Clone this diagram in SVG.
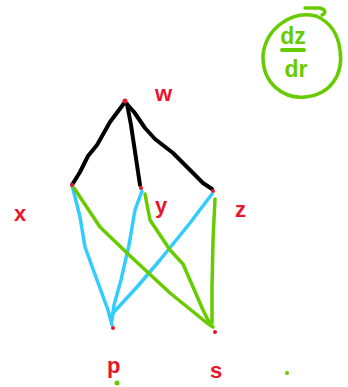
<svg xmlns="http://www.w3.org/2000/svg" width="348" height="387" viewBox="0 0 348 387">
<style>
.lbl{font-family:"Liberation Sans","DejaVu Sans",sans-serif;font-weight:bold;fill:#e8152b;font-size:22px}
.frac{font-family:"Liberation Sans","DejaVu Sans",sans-serif;font-weight:bold;fill:#66cc00;font-size:23px}
.e{fill:none;stroke-linecap:round;stroke-linejoin:round}
.k{stroke:#000;stroke-width:4}
.b{stroke:#33ccff;stroke-width:3.5}
.g{stroke:#66cc00;stroke-width:3.5}
.dot{fill:#e8152b}
</style>
<rect width="348" height="387" fill="#fff"/>
<g id="connectors">
<path class="e k" d="M125,102 L110,122 L97,145 L88,156 L80,172 L72,185"/>
<path class="e k" d="M127,104 L131,125 L134,145 L137,165 L140,185"/>
<path class="e k" d="M126,103 L134,112 L145,128 L155,139 L173,153 L193,173 L203,183 L212,189"/>
<path class="e b" d="M72,185 L80,217 L85,247 L97,280 L108,310 L112,325"/>
<path class="e b" d="M142,191 L135,210 L129,245 L121,280 L114,305 L112,320"/>
<path class="e b" d="M212,194 L190,223 L160,260 L137,287 L113,313"/>
<path class="e g" d="M74,188 L100,227 L127,253 L170,293 L207,323 L213,327"/>
<path class="e g" d="M145,194 L150,220 L170,250 L183,264 L203,310 L210,324"/>
<path class="e g" d="M215,199 L213,240 L212,287 L212,323"/>
</g>
<g id="w"><circle class="dot" cx="125" cy="101" r="2.5"/><text class="lbl" x="155" y="101">w</text></g>
<g id="x"><circle class="dot" cx="72" cy="185" r="2"/><text class="lbl" x="14" y="221">x</text></g>
<g id="y"><circle class="dot" cx="141" cy="188" r="2"/><text class="lbl" x="155" y="213">y</text></g>
<g id="z"><circle class="dot" cx="213" cy="191" r="2"/><text class="lbl" x="235" y="217">z</text></g>
<g id="p"><circle class="dot" cx="113" cy="328" r="2"/><text class="lbl" x="107" y="373">p</text><circle cx="117" cy="383" r="2.5" fill="#66cc00"/></g>
<g id="s"><circle class="dot" cx="215" cy="332" r="2"/><text class="lbl" x="210" y="378">s</text></g>
<g id="dot2"><circle cx="287" cy="373" r="2" fill="#66cc00"/></g>
<g id="dzdr">
<path class="e g" d="M305,8 L320,8 C326,10 326,13 322,15 M316,16 C292,10 266,28 263,55 C262,84 284,99 305,97 C329,95 344,76 340,50 C338,34 330,22 316,16"/>
<text class="frac" x="293" y="44" text-anchor="middle">dz</text>
<line class="e g" x1="282" y1="50" x2="304" y2="50" style="stroke-width:4"/>
<text class="frac" x="296" y="77" text-anchor="middle">dr</text>
</g>
</svg>
